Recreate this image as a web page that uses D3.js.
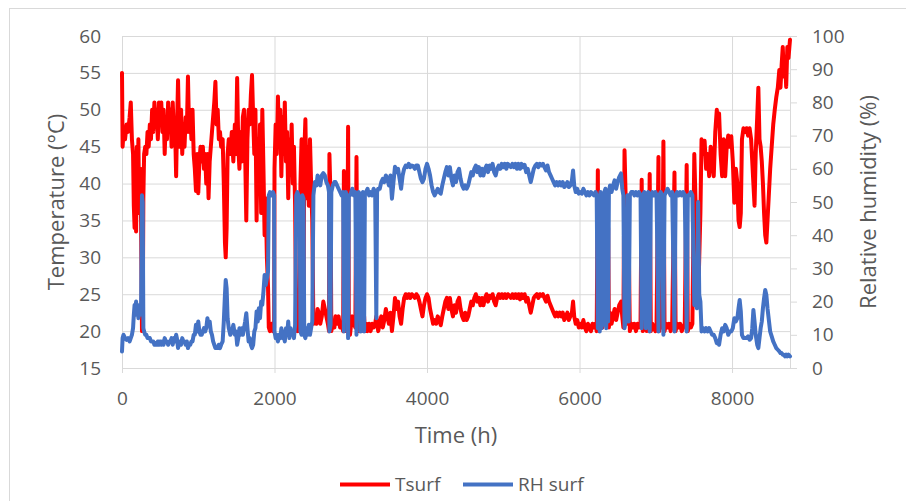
<!DOCTYPE html>
<html><head><meta charset="utf-8">
<script src="https://cdn.jsdelivr.net/npm/d3@7"></script>
<style>
body{margin:0;background:#fff;}
svg{display:block;font-family:'Open Sans',sans-serif;}
</style>
</head><body>
<svg id="chart" width="906" height="501"></svg>
<script>
// ---------------- DATA ----------------
const xTicks = [0, 2000, 4000, 6000, 8000];
const tempTicks = [15, 20, 25, 30, 35, 40, 45, 50, 55, 60];
const rhTicks = [0, 10, 20, 30, 40, 50, 60, 70, 80, 90, 100];
const seriesNames = ["Tsurf", "RH surf"];

const hours = [
  0,8,20,40,60,80,100,115,130,145,
  155,165,175,185,195,205,215,225,240,250,
  262,272,280,290,305,320,335,350,365,380,
  395,410,425,440,455,470,485,500,515,530,
  545,560,575,590,605,620,635,650,665,680,
  695,710,720,735,745,760,775,790,805,820,
  835,850,865,880,895,910,925,940,955,970,
  985,1000,1015,1030,1045,1060,1075,1090,1105,1120,
  1135,1150,1165,1180,1195,1210,1225,1240,1255,1270,
  1285,1300,1320,1335,1350,1360,1372,1385,1400,1420,
  1440,1460,1480,1495,1510,1525,1540,1555,1570,1585,
  1600,1615,1630,1645,1660,1675,1690,1705,1720,1735,
  1750,1765,1780,1795,1810,1825,1840,1855,1870,1885,
  1900,1915,
  1925,1940,1960,1980,1995,2000,2015,2030,2045,2060,
  2075,2090,2105,2120,2135,2150,2165,2180,2195,2210,
  2225,2240,2255,2270,2285,2300,2315,2330,2340,2355,
  2365,2380,2390,2405,2420,2435,2450,2465,2480,2495,
  2510,2530,2550,2565,2580,2600,2620,2640,2660,2680,
  2700,2715,2720,2735,2745,2765,2785,2800,2820,2840,
  2860,2880,2900,2910,2920,2935,2950,2965,2975,2990,
  3005,3020,3040,3060,3075,3090,3105,3120,3130,3140,
  3160,3175,3185,3200,3220,3240,3260,3280,3300,3320,
  3335,3345,3360,3380,3400,3420,3440,3460,3480,3500,
  3520,3540,3560,3580,3600,3620,3640,3660,3680,3700,
  3720,3740,3760,3780,3800,3820,3840,3860,3880,3900,
  3920,3940,3960,3980,4000,4020,4040,4060,4080,4100,
  4120,4140,4160,4180,4200,4220,4240,4260,4280,4300,
  4320,4340,4360,4380,4400,4420,4440,4460,4480,4500,
  4520,4540,4560,4580,4600,4620,4640,4660,4680,4700,
  4720,4740,4760,4780,4800,4820,4840,4860,4880,4900,
  4920,4940,4960,4980,5000,5020,5040,5060,5080,5100,
  5120,5140,5160,5180,5200,5220,5240,5260,5280,5300,
  5320,5340,5360,5380,5400,5420,5440,5460,5480,5500,
  5520,5540,5560,5580,5600,5620,5640,5660,5680,5700,
  5720,5740,5760,5780,5800,5820,5840,5860,5880,5900,
  5915,5930,5950,5970,5990,6010,6030,6050,6070,6090,
  6110,6130,6150,6170,6190,6210,6225,
  6240,6250,6265,6275,6290,6300,6315,6325,6340,6350,
  6360,6375,6385,6400,6420,6440,6460,6480,6500,6520,
  6545,6560,6575,6590,6605,6620,6630,6645,6660,6680,
  6700,6720,6740,6760,6780,6800,6815,6830,6850,6870,
  6880,6900,6920,6935,6955,6975,6995,7010,7035,7045,
  7065,7080,7100,7115,7135,7155,7175,7195,7215,7245,
  7260,7280,7300,7320,7340,7360,7380,7405,7420,7440,
  7460,7480,7505,7520,7540,7555,7570,7585,
  7600,7620,7640,7660,7680,7700,7720,7740,7760,7780,
  7800,7815,7830,7850,7870,7890,7910,7930,7950,7970,
  7990,8010,8030,8050,8070,8085,8100,8115,8130,8150,
  8170,8190,8210,8230,8250,8265,8280,8295,8310,8330,
  8345,8360,8375,8390,8405,8420,8435,8450,8465,8480,
  8500,8520,8540,8560,8580,8600,8620,8635,8650,8665,
  8680,8695,8710,8725,8740,8760
];

const tsurf = [
  55,45,47,46,48,47,49,51,46,44,
  37,34,40,33.5,45,38,46,36,42,35,
  20,21,38,44,45,44,47,45,48,46,
  50,47,51,48,50,46,51,49,51,47,
  50,44,49,46,51,47,50,45,51,47,
  48,41,47,54,49,45,50,44,48,45,
  49,47,54.5,47,50,46,50,44,42,39,
  44,38.7,43,45,43,45,42,44,40,44,
  38,43,45,47,49,51,53.8,48,50,46,
  47,45,46,40,32,30,34,44,46,44,
  47,43,48,44,54.3,45,42,47,43,49,
  50,44,35,46,50,48,52,54.7,49,44,
  50,35,46,40,48,36,50,42,33,38,
  30,26,
  20.5,20,21,20,20.5,42,48,44,51.8,45,
  50,41,49,44,51,43,47,38,46,42,
  48,40,45,37,20.5,20,21,20,40,46,
  20,21,44,48.7,38,45,37,46,40,35,
  21,22,21,23,22.5,21,22,24,23,22,
  21,20,44,38,20,21,20.5,22,21,22,
  20.5,21,20,41.7,20,21,20,47.7,20,19.5,
  21,22,21,20.5,43.6,20,21,20,30,20,
  21,22,20,21,20,21,20,21,20.5,21,
  22,21,20,21,22,20.5,21.5,23,22,21,
  22.5,20,22,24.5,23,24,22,21,23,24.5,
  25,24.5,25,24.5,25,24.8,24.5,25,24.7,24,
  23,22,23.5,24.5,25,24.5,23,22,21,21.5,
  21,22,21.5,20.8,22,23,24,24.5,23,24.5,
  23,22,23.5,22.5,24,24.5,23,22,21.5,22.5,
  21.5,22,23,24,23.5,24.5,25,24,24.5,23.5,
  24.5,23.5,24.5,25,24,24.8,24.5,25,24,23.5,
  24.5,25,24.5,25,24.5,25,24.5,25,24.8,24.5,
  25,24.5,25,24.5,25,24.3,25,24.5,25,24,
  24.5,23.5,22.5,23.5,24.5,24.8,25,24.5,25,24.8,
  25,24.5,24,24.8,24,23.5,23,22.5,22,22.5,
  22,22.5,22,22.5,21.5,22,22.5,21.5,22,22.5,
  24,22,21,21.5,20.5,21,20.5,21.5,20.5,20,
  21,20.5,20,21,20.5,21,20,
  41.8,20,38,21,30,20.5,35,21,23,39,
  21,34,20.5,22.5,21,22,23,21.5,22.5,23.5,
  24,22,20.5,44.5,38,30,21,32,20,21,
  20.5,21,20,21,20.5,21,40.5,20,21,38,
  20,21,41.3,20,21,20.5,20,21,43.6,20,
  21,20.5,45.7,20,21,20.5,21,20,21,41.5,
  20,21,20.5,21,20,20.5,21,42.5,20,21,
  20.5,21,44,38,33,24,30,36,
  46,44,45.8,42,44,41,45,43,41,47,
  50,48,49.5,44,41,46,41,45,46.5,45,
  46.4,43,37.4,42,40,35,34.1,36,46,47.5,
  47,47.5,46.5,47.5,46,43,40,37,44,49,
  53,46,45,43,40,36,33,32,35,38,
  42,45,48,50,51.7,53,55.4,53,56,58.5,
  54.5,57,53.1,58.5,57,59.5
];

const rhSurf = [
  5,9,10,9,8.5,9,8,9,10,12,
  16,19,17,20,16,19,15,18,16,18,
  52,50,12,11,10,10,9,9,9,8,
  8,8,7,7.5,7,8,7,8,7,8,
  7,9,8,8,7,8,8,9,7,9,
  8,10,9,6,7,8,7,9,8,8,
  7,8,6,7,7,8,8,10,10,13,
  11,14,11,10,10,11,12,11,12,15,
  13,14,11,10,8,7,6,6,6,7,
  6,7,8,14,22,26.5,24,15,12,10,
  11,13,10,11,7,9,12,10,12,10,
  12,14,16.5,12,8,9,7,6,7,11,
  12,17,14,18,15,20,19,23,28,25,
  27,29,
  52,53,52,53,52,11,9,10,8,10,
  9,12,9,11,8,12,10,14,9,12,
  10,11,9,13,52,53,52,51,11,10,
  52,51,10,9,12,10,13,10,12,14,
  52,56,55,58,57,55,58,58.7,58,56,
  55,53,11,13,53,55,56,56,55,54,
  53,52,53,11,52,53,51,9,52,52,
  53,54,52,53,10,52,53,51,11,52,
  53,11,52,53,54,52,53,52,54,53,
  15,53,54,54,56,57,56,58,57,55,
  58,51,56,60.6,59,60,57,54,58,60,
  61,60.5,61.5,60.5,61,60.8,60,61,61,59,
  57,56,57,60,61.5,60,58,55,53,52,
  53,54,53,52.5,55,57,59,60.5,58,60.5,
  57,55,58,56,59,60,57,55,54,55,
  54,55,57,59,58,60,61,59,60.5,58,
  60,58,60,61,59,61,60,61.5,59,58,
  60,61,60,61.5,60.5,61.5,60,61.5,61,60.5,
  61.5,60.5,61.5,60,61.5,60,61.5,60.5,61.2,59,
  60,58,56,58,60,61,61.5,60.5,61.5,61,
  61.5,60.5,59.5,61,59,58,57,56,55,56,
  55,56,55,56,54.5,55,56,54.5,55,56.5,
  59.5,55,53,54,52.5,53,52.5,54,53,52,
  53,52,53,52.5,52,53,52,
  12,52,11,53,12,52,13,53,54,12,
  52,14,53,55,53,55,56.5,54,56,57.5,
  58.6,54,52,12,14,16,52,14,52,53,
  53,52,53,52,53,52,12,52,53,12,
  52,53,11,52,53,52,53,52,11,52,
  53,52,10,52,53,54,53,52,53,11,
  52,53,52,53,52,53,52,11,52,52,
  53,52,19,20,18,50,22,20,
  11,12,11,12,11,12,11,10,10,9,
  7.5,8,7,10,12,11,13,12,10,11,
  11,12,15,14,15,18,20.5,17,10,9,
  9,9,9.5,8.5,9,12,17.5,14,10,7,
  6,9,12,14,18,21,23.5,22,18,15,
  11,9.5,8,7,6,5.5,5,4.5,4.5,4,
  4,3.5,4,3.5,4,3.5
];

if (hours.length !== tsurf.length || hours.length !== rhSurf.length) {
  console.error("length mismatch", hours.length, tsurf.length, rhSurf.length);
}

// ---------------- CHART ----------------
const plot = {left: 122, right: 790, top: 36, bottom: 368};
const textColor = "#595959";
const gridColor = "#d9d9d9";
const fontFam = "'Open Sans',sans-serif";

const svg = d3.select("#chart");

svg.append("rect")
  .attr("x", 9.5).attr("y", 8.5).attr("width", 1000).attr("height", 1000)
  .attr("fill", "#fff").attr("stroke", gridColor);

const x = d3.scaleLinear().domain([0, 8760]).range([plot.left, plot.right]);
const yT = d3.scaleLinear().domain([15, 60]).range([plot.bottom, plot.top]);
const yR = d3.scaleLinear().domain([0, 100]).range([plot.bottom, plot.top]);

// horizontal gridlines
svg.append("g")
  .attr("transform", `translate(${plot.left},0)`)
  .call(d3.axisLeft(yT).tickValues(tempTicks).tickSize(-(plot.right - plot.left)).tickFormat(""))
  .call(g => g.select(".domain").remove())
  .call(g => g.selectAll("line").attr("stroke", gridColor));

// vertical gridlines
svg.append("g")
  .attr("transform", `translate(0,${plot.bottom})`)
  .call(d3.axisBottom(x).tickValues(xTicks).tickSize(-(plot.bottom - plot.top)).tickFormat(""))
  .call(g => g.select(".domain").remove())
  .call(g => g.selectAll("line").attr("stroke", gridColor));

// bottom axis with labels
svg.append("g")
  .attr("transform", `translate(0,${plot.bottom})`)
  .call(d3.axisBottom(x).tickValues(xTicks).tickFormat(d3.format("d")).tickSize(5).tickSizeOuter(0).tickPadding(19))
  .call(g => g.select(".domain").attr("stroke", gridColor))
  .call(g => g.selectAll("line").attr("stroke", gridColor))
  .call(g => g.selectAll("text").attr("fill", textColor).style("font-size", "19px").style("font-family", fontFam));

// left axis labels
svg.append("g")
  .attr("transform", `translate(${plot.left},0)`)
  .call(d3.axisLeft(yT).tickValues(tempTicks).tickFormat(d3.format("d")).tickSize(0).tickPadding(21))
  .call(g => g.select(".domain").remove())
  .call(g => g.selectAll("text").attr("fill", textColor).style("font-size", "19px").style("font-family", fontFam));

// right axis
svg.append("g")
  .attr("transform", `translate(${plot.right},0)`)
  .call(d3.axisRight(yR).tickValues(rhTicks).tickFormat(d3.format("d")).tickSize(7).tickSizeOuter(0).tickPadding(15))
  .call(g => g.select(".domain").attr("stroke", gridColor))
  .call(g => g.selectAll("line").attr("stroke", gridColor))
  .call(g => g.selectAll("text").attr("fill", textColor).style("font-size", "19px").style("font-family", fontFam));

// series
const idx = d3.range(hours.length);
const lineT = d3.line().x(i => x(hours[i])).y(i => yT(tsurf[i]));
const lineR = d3.line().x(i => x(hours[i])).y(i => yR(rhSurf[i]));

svg.append("path").datum(idx)
  .attr("d", lineT).attr("fill", "none").attr("stroke", "#ff0000")
  .attr("stroke-width", 4).attr("stroke-linejoin", "round").attr("stroke-linecap", "round");
svg.append("path").datum(idx)
  .attr("d", lineR).attr("fill", "none").attr("stroke", "#4472c4")
  .attr("stroke-width", 4).attr("stroke-linejoin", "round").attr("stroke-linecap", "round");

// axis titles
svg.append("text")
  .attr("transform", `translate(64,${(plot.top + plot.bottom) / 2}) rotate(-90)`)
  .attr("text-anchor", "middle").attr("fill", textColor).style("font-size", "22px")
  .text("Temperature (°C)");
svg.append("text")
  .attr("transform", `translate(876,${(plot.top + plot.bottom) / 2}) rotate(-90)`)
  .attr("text-anchor", "middle").attr("fill", textColor).style("font-size", "22px")
  .text("Relative humidity (%)");
svg.append("text")
  .attr("x", (plot.left + plot.right) / 2).attr("y", 443)
  .attr("text-anchor", "middle").attr("fill", textColor).style("font-size", "22px")
  .text("Time (h)");

// legend
const legendColors = ["#ff0000", "#4472c4"];
const legendX = [340, 463];
const legend = svg.append("g");
seriesNames.forEach((name, i) => {
  legend.append("line")
    .attr("x1", legendX[i]).attr("x2", legendX[i] + 50)
    .attr("y1", 484.5).attr("y2", 484.5)
    .attr("stroke", legendColors[i]).attr("stroke-width", 4);
  legend.append("text")
    .attr("x", legendX[i] + 55).attr("y", 491)
    .attr("fill", textColor).style("font-size", "19px")
    .text(name);
});
</script>
</body></html>
